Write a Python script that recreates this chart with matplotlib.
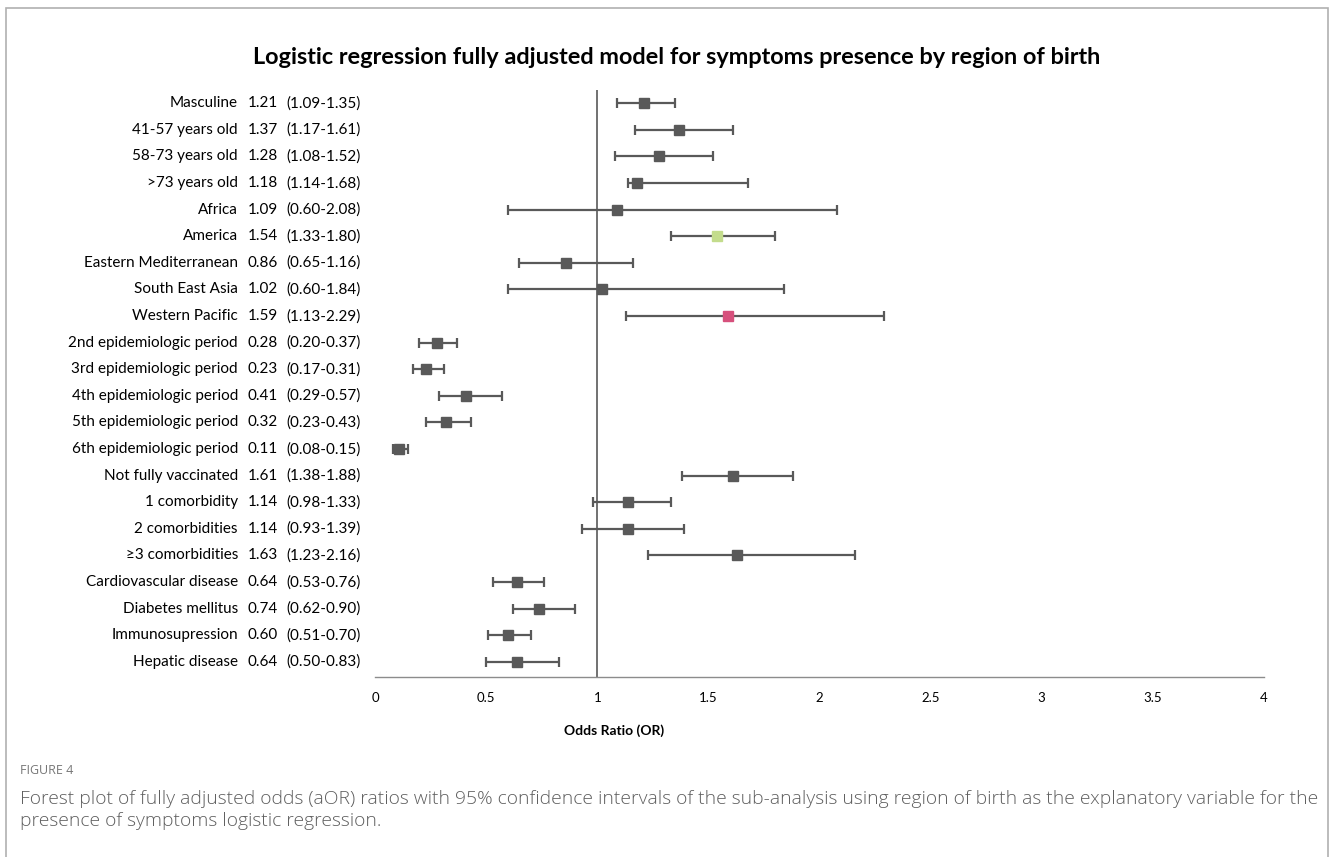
import matplotlib.pyplot as plt
import matplotlib.patches as mpatches
import matplotlib.transforms as mtransforms

# rows, top to bottom
labels = ["Masculine", "41-57 years old", "58-73 years old", ">73 years old",
          "Africa", "America", "Eastern Mediterranean", "South East Asia",
          "Western Pacific", "2nd epidemiologic period", "3rd epidemiologic period",
          "4th epidemiologic period", "5th epidemiologic period",
          "6th epidemiologic period", "Not fully vaccinated", "1 comorbidity",
          "2 comorbidities", "\u22653 comorbidities", "Cardiovascular disease",
          "Diabetes mellitus", "Immunosupression", "Hepatic disease"]
odds = [1.21, 1.37, 1.28, 1.18, 1.09, 1.54, 0.86, 1.02, 1.59, 0.28, 0.23,
        0.41, 0.32, 0.11, 1.61, 1.14, 1.14, 1.63, 0.64, 0.74, 0.60, 0.64]
ci_low = [1.09, 1.17, 1.08, 1.14, 0.60, 1.33, 0.65, 0.60, 1.13, 0.20, 0.17,
          0.29, 0.23, 0.08, 1.38, 0.98, 0.93, 1.23, 0.53, 0.62, 0.51, 0.50]
ci_high = [1.35, 1.61, 1.52, 1.68, 2.08, 1.80, 1.16, 1.84, 2.29, 0.37, 0.31,
           0.57, 0.43, 0.15, 1.88, 1.33, 1.39, 2.16, 0.76, 0.90, 0.70, 0.83]
xticks = [0, 0.5, 1, 1.5, 2, 2.5, 3, 3.5, 4]
xtick_labels = ["0", "0.5", "1", "1.5", "2", "2.5", "3", "3.5", "4"]

# highlighted markers
special = {"America": "#c3dc8c", "Western Pacific": "#d6507c"}
grey = "#595959"

plt.rcParams['font.family'] = ['Lato', 'DejaVu Sans']

fig = plt.figure(figsize=(13.3, 8.57), dpi=100)
W, H = 1330, 857
ax = fig.add_axes([375 / W, 1 - 677 / H, (1264 - 375) / W, (677 - 90) / H])

for i, lab in enumerate(labels):
    c = special.get(lab, grey)
    ax.errorbar(odds[i], i, xerr=[[odds[i] - ci_low[i]], [ci_high[i] - odds[i]]],
                fmt='none', ecolor=grey, elinewidth=1.6, capsize=3.5, capthick=1.6, zorder=2)
    ax.plot(odds[i], i, marker='s', markersize=7, color=c, mec=c, zorder=3)

ax.axvline(1, color=grey, lw=1.2, zorder=1)
ax.set_xlim(0, 4)
ax.set_ylim(21.57, -0.5)
ax.set_xticks(xticks)
ax.set_xticklabels(xtick_labels, fontsize=9.5)
ax.tick_params(axis='x', length=0, pad=11)
ax.set_yticks([])
for s in ['top', 'right', 'left']:
    ax.spines[s].set_visible(False)
ax.spines['bottom'].set_color('#8c8c8c')
ax.spines['bottom'].set_linewidth(1.0)

# label columns to the left of the axes
trans = mtransforms.blended_transform_factory(fig.transFigure, ax.transData)
for i, lab in enumerate(labels):
    ax.text(238 / W, i, lab, transform=trans, ha='right', va='center', fontsize=11)
    ax.text(248 / W, i, f"{odds[i]:.2f}", transform=trans, ha='left', va='center', fontsize=11)
    ax.text(286 / W, i, f"({ci_low[i]:.2f}-{ci_high[i]:.2f})", transform=trans,
            ha='left', va='center', fontsize=11)

fig.text(677 / W, 1 - 57 / H, "Logistic regression fully adjusted model for symptoms presence by region of birth",
         ha='center', va='center', fontsize=16.9, fontweight='bold')
fig.text(614 / W, 1 - 731 / H, "Odds Ratio (OR)", ha='center', va='center',
         fontsize=10, fontweight='bold')

# caption
fig.text(20 / W, 1 - 771 / H, "FIGURE 4", ha='left', va='center', fontsize=9,
         color='#777777', family=['Open Sans', 'DejaVu Sans'])
fig.text(20 / W, 1 - 810 / H,
         "Forest plot of fully adjusted odds (aOR) ratios with 95% confidence intervals of the sub-analysis using region of birth as the explanatory variable for the\n"
         "presence of symptoms logistic regression.",
         ha='left', va='center', fontsize=13.9, color='#5f5f5f', linespacing=1.25,
         family=['Open Sans', 'DejaVu Sans'], fontweight='light')

# outer frame
frame = mpatches.Rectangle((6 / W, -0.05), (1328 - 6) / W, 1 - 8 / H + 0.05,
                           transform=fig.transFigure, fill=False, edgecolor='#b0b0b0',
                           lw=1.2, clip_on=False)
fig.patches.append(frame)

fig.savefig("out.png", dpi=100)
